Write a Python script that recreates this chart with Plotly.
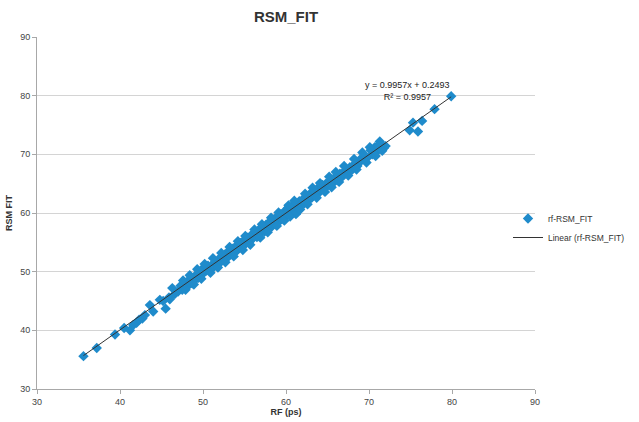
import plotly.graph_objects as go

# Observed data (RF vs RSM fit)
rf_x = [35.6, 37.2, 39.4, 40.5, 41.2, 41.6, 42.0, 42.3, 42.7, 43.0, 43.6, 44.0, 44.8, 45.2, 45.5, 45.9, 46.3, 46.6,
        47.0, 47.3, 47.5, 47.8, 48.0, 48.2, 48.5, 48.7, 49.0, 49.2, 49.4, 49.7, 50.0, 50.1, 50.4, 50.6, 50.8,
        51.1, 51.3, 51.5, 51.7, 52.0, 52.1, 52.4, 52.6, 52.8, 53.0, 53.1, 53.4, 53.6, 53.8, 54.0, 54.1, 54.3,
        54.5, 54.7, 54.9, 55.0, 55.2, 55.4, 55.6, 55.8, 55.9, 56.1, 56.3, 56.5, 56.7, 56.8, 57.0, 57.2, 57.4,
        57.6, 57.7, 57.9, 58.1, 58.3, 58.5, 58.6, 58.8, 59.0, 59.2, 59.4, 59.5, 59.7, 59.9, 60.1, 60.2, 60.4,
        60.6, 60.8, 60.9, 61.1, 61.3, 61.5, 61.6, 61.8, 62.0, 62.2, 62.4, 62.5, 62.7, 62.9, 63.1, 63.3, 63.4,
        63.6, 63.8, 64.0, 64.2, 64.4, 64.6, 64.8, 65.0, 65.3, 65.6, 65.9, 66.2, 66.5, 66.8, 67.1, 67.4, 67.7,
        68.0, 68.3, 68.6, 69.0, 69.4, 69.8, 70.2, 70.4, 70.7, 70.9, 71.2, 71.5, 71.8, 72.0,
        74.9, 75.3, 75.9, 76.4, 77.9, 79.9,
        48.3, 49.1, 49.9, 50.5, 51.0, 51.9, 52.3, 53.3, 53.9, 54.6, 55.3, 56.0, 56.6, 57.3, 58.0, 58.7,
        59.3, 60.0, 60.7, 61.4, 62.1, 62.8, 63.5, 64.3, 65.1, 65.8, 66.6, 67.3, 68.1, 68.9, 69.6, 70.5, 71.0,
        61.2, 46.0,
        47.6, 48.4, 49.3, 50.2, 51.2, 52.2, 53.2, 54.2, 55.1, 56.2, 57.1, 58.2, 59.1, 60.3, 61.0, 62.3,
        63.2, 64.1, 65.2, 66.0, 67.0, 68.2, 69.2, 70.1, 71.3,
        47.9, 48.9, 49.8, 50.9, 51.8, 52.7, 53.7, 54.8, 55.7, 56.9, 57.8, 58.9, 59.8, 60.5, 61.7, 62.6,
        63.7, 64.7, 65.5, 66.4, 67.5, 68.5, 69.7, 70.8, 71.6]
rsm_fit = [35.6, 37.0, 39.3, 40.4, 40.0, 40.9, 41.3, 41.8, 42.0, 42.6, 44.3, 43.2, 45.2, 45.0, 43.7, 45.6, 47.2, 46.2,
           46.6, 47.6, 46.9, 47.3, 48.2, 47.6, 48.8, 48.0, 48.6, 49.5, 48.9, 49.4, 50.6, 49.8, 50.2, 51.0, 50.3,
           51.2, 50.8, 51.7, 51.1, 52.3, 51.6, 52.0, 52.9, 52.3, 53.4, 52.6, 53.0, 53.9, 53.3, 54.4, 53.6, 54.0,
           54.9, 54.2, 55.3, 54.6, 55.0, 55.8, 55.1, 56.2, 55.5, 56.0, 56.7, 55.9, 57.1, 56.4, 56.9, 57.6, 56.8,
           58.0, 57.3, 57.8, 58.6, 57.7, 58.9, 58.2, 58.7, 59.5, 58.6, 59.8, 59.1, 59.6, 60.4, 59.6, 60.8, 60.0,
           60.5, 61.3, 60.4, 61.6, 60.7, 61.2, 62.0, 61.3, 62.3, 61.6, 62.1, 62.9, 62.2, 63.3, 62.6, 63.0, 63.8,
           63.1, 64.2, 63.5, 64.0, 64.8, 64.1, 65.0, 64.7, 65.5, 65.0, 66.1, 65.6, 66.7, 66.2, 67.2, 66.8, 67.8,
           67.4, 68.4, 68.0, 68.8, 69.6, 69.4, 70.7, 70.0, 71.2, 70.4, 71.0, 71.6, 71.1, 71.4,
           74.1, 75.4, 73.9, 75.7, 77.7, 79.9,
           48.3, 49.0, 50.1, 50.7, 50.5, 51.9, 52.6, 53.5, 53.8, 54.6, 55.4, 56.4, 56.5, 57.1, 58.2, 59.0,
           59.3, 60.0, 60.9, 61.6, 62.1, 62.8, 63.6, 64.4, 65.1, 65.7, 66.4, 67.4, 68.0, 69.1, 69.5, 70.6, 71.4,
           59.8, 45.3,
           48.5, 49.4, 50.4, 51.3, 52.3, 53.2, 54.2, 55.2, 56.1, 57.2, 58.1, 59.2, 60.1, 61.3, 62.1, 63.3,
           64.3, 65.1, 66.2, 67.0, 68.0, 69.2, 70.3, 71.2, 72.2,
           46.9, 47.8, 48.8, 49.8, 50.7, 51.6, 52.6, 53.7, 54.6, 55.8, 56.7, 57.8, 58.7, 59.4, 60.6, 61.5,
           62.6, 63.6, 64.4, 65.3, 66.4, 67.4, 68.6, 69.7, 70.6]

# Linear trendline coefficients (as shown on chart)
slope = 0.9957
intercept = 0.2493
r_squared = 0.9957

x_ticks = [30, 40, 50, 60, 70, 80, 90]
y_ticks = [30, 40, 50, 60, 70, 80, 90]

FONT = "Liberation Sans, Arial, sans-serif"
BLUE = "#1f8bcb"

x_lo, x_hi = min(rf_x), max(rf_x)
trend_x = [x_lo, x_hi]
trend_y = [slope * v + intercept for v in trend_x]

fig = go.Figure()
fig.add_trace(go.Scatter(
    x=rf_x, y=rsm_fit, mode="markers", name="rf-RSM_FIT",
    marker=dict(symbol="diamond", size=8, color=BLUE, line=dict(width=0)),
))
fig.add_trace(go.Scatter(
    x=trend_x, y=trend_y, mode="lines", name="Linear (rf-RSM_FIT)",
    line=dict(color="#333333", width=1),
))

fig.add_annotation(
    x=74.6, y=80.8, xref="x", yref="y",
    text=f"y = {slope}x + {intercept}<br>R² = {r_squared}",
    showarrow=False, font=dict(family=FONT, size=9, color="#222222"), align="center",
)

fig.update_layout(
    width=639, height=422,
    margin=dict(l=37, r=104, t=37, b=33, autoexpand=False),
    paper_bgcolor="white", plot_bgcolor="white",
    title=dict(text="<b>RSM_FIT</b>", x=(37 + (639 - 104)) / 2 / 639, xanchor="center",
               y=1 - 17 / 422, yanchor="middle",
               font=dict(family=FONT, size=15, color="#333333")),
    font=dict(family=FONT, size=9, color="#333333"),
    legend=dict(xref="container", yref="container", x=508 / 639, xanchor="left",
                y=1 - 228 / 422, yanchor="middle",
                font=dict(family=FONT, size=8.5, color="#333333"),
                bgcolor="rgba(0,0,0,0)", itemwidth=30, tracegroupgap=2),
    showlegend=True,
)
fig.update_xaxes(
    range=[30, 90], tickvals=x_ticks, ticktext=[str(t) for t in x_ticks],
    showgrid=False, zeroline=False, showline=True, linecolor="#a8a8a8", linewidth=1,
    ticks="outside", ticklen=4, tickcolor="#a8a8a8",
    title=dict(text="<b>RF (ps)</b>", font=dict(family=FONT, size=9, color="#333333"), standoff=1),
    tickfont=dict(family=FONT, size=9, color="#444444"),
)
fig.update_yaxes(
    range=[30, 90], tickvals=y_ticks, ticktext=[str(t) for t in y_ticks],
    showgrid=True, gridcolor="#d4d4d4", gridwidth=1, zeroline=False,
    showline=True, linecolor="#a8a8a8", linewidth=1,
    ticks="outside", ticklen=4, tickcolor="#a8a8a8",
    title=dict(text="<b>RSM FIT</b>", font=dict(family=FONT, size=9, color="#333333"), standoff=6),
    tickfont=dict(family=FONT, size=9, color="#444444"),
)

fig.write_html("out.html")
